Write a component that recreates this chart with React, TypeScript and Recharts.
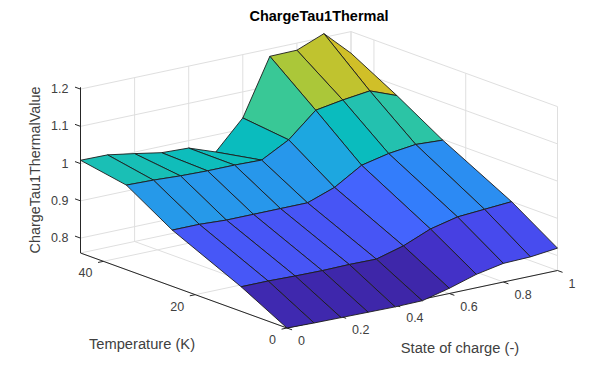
import React from "react";
import { ScatterChart, Scatter, XAxis, YAxis } from "recharts";

const socValues = [0, 0.1, 0.2, 0.3, 0.4, 0.5, 0.6, 0.7, 0.8, 0.9, 1];
const temperatureValues = [0, 10, 25, 35, 45];
const tauAt0 = [0.76, 0.758, 0.757, 0.756, 0.755, 0.756, 0.774, 0.796, 0.81, 0.812, 0.82];
const tauAt10 = [0.826, 0.826, 0.824, 0.823, 0.824, 0.823, 0.843, 0.873, 0.89, 0.895, 0.9];
const tauAt25 = [0.911, 0.911, 0.907, 0.907, 0.907, 0.907, 0.933, 0.977, 0.993, 1.002, 0.998];
const tauAt35 = [0.987, 0.985, 0.981, 0.979, 0.979, 0.977, 1.016, 1.08, 1.092, 1.101, 1.073];
const tauAt45 = [1.009, 1.008, 0.996, 0.983, 0.98, 0.954, 1.03, 1.18, 1.181, 1.21, 1.142];
const tauRows = [tauAt0, tauAt10, tauAt25, tauAt35, tauAt45];

const socTicks = [0, 0.2, 0.4, 0.6, 0.8, 1];
const temperatureTicks = [0, 20, 40];
const tauTicks = [0.8, 0.9, 1, 1.1, 1.2];

const parula = [
  [0.2422, 0.1504, 0.6603], [0.2647, 0.1978, 0.7952], [0.2783, 0.2559, 0.8991], [0.281, 0.3228, 0.9579],
  [0.2699, 0.3892, 0.9906], [0.2206, 0.4603, 0.9973], [0.1786, 0.5289, 0.9682], [0.154, 0.5902, 0.9218],
  [0.1248, 0.6459, 0.8883], [0.0689, 0.6948, 0.8394], [0.0067, 0.7312, 0.766], [0.1408, 0.7584, 0.6842],
  [0.2161, 0.7843, 0.5923], [0.3406, 0.8008, 0.4789], [0.5044, 0.7993, 0.348], [0.672, 0.7793, 0.2227],
  [0.8203, 0.7498, 0.1535], [0.9393, 0.7288, 0.21], [0.997, 0.7659, 0.2199], [0.9786, 0.8303, 0.1753],
  [0.9628, 0.9064, 0.1416], [0.9769, 0.9839, 0.0805],
];

const W = 616;
const H = 371;
const T_MAX = 45;
const Z_FLOOR = 0.76;
const Z_TOP = 1.2;
const C_MIN = 0.755;
const C_MAX = 1.21;

type Pt = [number, number];
const project = (s: number, t: number, z: number): Pt => [
  287 + 270.5 * s - (206.5 * t) / T_MAX,
  328 - 57.5 * s - (75 * t) / T_MAX - (z - Z_FLOOR) * 372.5,
];

const colorOf = (z: number) => {
  const v = Math.max(0, Math.min(1, (z - C_MIN) / (C_MAX - C_MIN))) * (parula.length - 1);
  const i = Math.min(parula.length - 2, Math.floor(v));
  const f = v - i;
  const c = parula[i].map((a, k) => Math.round((a + (parula[i + 1][k] - a) * f) * 255));
  return `rgb(${c[0]},${c[1]},${c[2]})`;
};

const seg = (pts: Pt[], extra: object = {}) => ({ x: pts[0][0], y: pts[0][1], pts, ...extra });

// back grid
const gridData: any[] = [];
socTicks.forEach((s) => {
  gridData.push(seg([project(s, 0, Z_FLOOR), project(s, T_MAX, Z_FLOOR), project(s, T_MAX, Z_TOP)]));
});
gridData.push(seg([project(0, T_MAX, Z_FLOOR), project(1, T_MAX, Z_FLOOR), project(1, T_MAX, Z_TOP)]));
temperatureTicks.forEach((t) => {
  gridData.push(seg([project(0, t, Z_FLOOR), project(1, t, Z_FLOOR), project(1, t, Z_TOP)]));
});
tauTicks.forEach((z) => {
  gridData.push(seg([project(0, T_MAX, z), project(1, T_MAX, z), project(1, 0, z)]));
});

// axes & ticks
const axisData: any[] = [
  seg([project(0, T_MAX, Z_TOP + 0.005), project(0, T_MAX, Z_FLOOR), project(0, 0, Z_FLOOR), project(1, 0, Z_FLOOR)]),
];
socTicks.forEach((s) => axisData.push(seg([project(s, 0, Z_FLOOR), project(s, -1.1, Z_FLOOR)])));
temperatureTicks.forEach((t) => axisData.push(seg([project(0, t, Z_FLOOR), project(-0.02, t, Z_FLOOR)])));
tauTicks.forEach((z) => axisData.push(seg([project(0, T_MAX, z), project(0, T_MAX + 1.2, z)])));

// surface, far faces first
const surfaceData: any[] = [];
for (let r = temperatureValues.length - 2; r >= 0; r--) {
  for (let c = socValues.length - 2; c >= 0; c--) {
    const t0 = temperatureValues[r];
    const t1 = temperatureValues[r + 1];
    const s0 = socValues[c];
    const s1 = socValues[c + 1];
    surfaceData.push(
      seg(
        [
          project(s0, t0, tauRows[r][c]),
          project(s1, t0, tauRows[r][c + 1]),
          project(s1, t1, tauRows[r + 1][c + 1]),
          project(s0, t1, tauRows[r + 1][c]),
          project(s0, t0, tauRows[r][c]),
        ],
        { fill: colorOf(tauRows[r][c]) }
      )
    );
  }
}

// text
const at = (p: Pt, dx: number, dy: number) => ({ x: p[0] + dx, y: p[1] + dy });
const textData: any[] = [];
tauTicks.forEach((z) => textData.push({ ...at(project(0, T_MAX, z), -12, 0), label: String(z), anchor: "end", size: 12.5 }));
temperatureTicks.forEach((t) => {
  const p = project(0, t, Z_FLOOR);
  textData.push({ ...at(p, -11, 12), label: String(t), anchor: "end", size: 12.5 });
});
socTicks.forEach((s) => {
  const p = project(s, 0, Z_FLOOR);
  textData.push({ ...at(p, 11, 13), label: String(s), anchor: "start", size: 12.5 });
});
textData.push({ x: 142, y: 344, label: "Temperature (K)", anchor: "middle", size: 14.7 });
textData.push({ x: 460, y: 348, label: "State of charge (-)", anchor: "middle", size: 14.7 });
textData.push({ x: 35, y: 170, label: "ChargeTau1ThermalValue", anchor: "middle", size: 14.4, rotate: true });
textData.push({ x: 319, y: 16, label: "ChargeTau1Thermal", anchor: "middle", size: 14.5, bold: true, color: "#000" });

const PathShape = ({ cx, cy, payload, stroke, strokeWidth, fillNone }: any) => {
  const d = payload.pts
    .map((p: Pt, i: number) => `${i ? "L" : "M"}${cx + p[0] - payload.x},${cy + p[1] - payload.y}`)
    .join("");
  return (
    <path
      d={d}
      fill={fillNone ? "none" : payload.fill}
      stroke={stroke}
      strokeWidth={strokeWidth}
      strokeLinejoin="round"
    />
  );
};

const TextShape = ({ cx, cy, payload }: any) => (
  <text
    x={cx}
    y={cy}
    textAnchor={payload.anchor}
    dominantBaseline="central"
    fontFamily="'Liberation Sans', Arial, sans-serif"
    fontSize={payload.size}
    fontWeight={payload.bold ? 700 : 400}
    fill={payload.color || "#404040"}
    transform={payload.rotate ? `rotate(-90 ${cx} ${cy})` : undefined}
  >
    {payload.label}
  </text>
);

export default function App() {
  return (
    <div style={{ position: "absolute", left: 0, top: 0, width: W, height: H }}>
      <ScatterChart width={W} height={H} margin={{ top: 0, right: 0, bottom: 0, left: 0 }}>
        <XAxis type="number" dataKey="x" domain={[0, W]} hide allowDataOverflow />
        <YAxis type="number" dataKey="y" domain={[0, H]} reversed hide allowDataOverflow />
        <Scatter
          data={gridData}
          isAnimationActive={false}
          shape={(p: any) => <PathShape {...p} stroke="#dfdfdf" strokeWidth={1} fillNone />}
        />
        <Scatter
          data={axisData}
          isAnimationActive={false}
          shape={(p: any) => <PathShape {...p} stroke="#262626" strokeWidth={1} fillNone />}
        />
        <Scatter
          data={surfaceData}
          isAnimationActive={false}
          shape={(p: any) => <PathShape {...p} stroke="#1c1c1c" strokeWidth={0.9} />}
        />
        <Scatter data={textData} isAnimationActive={false} shape={(p: any) => <TextShape {...p} />} />
      </ScatterChart>
    </div>
  );
}
